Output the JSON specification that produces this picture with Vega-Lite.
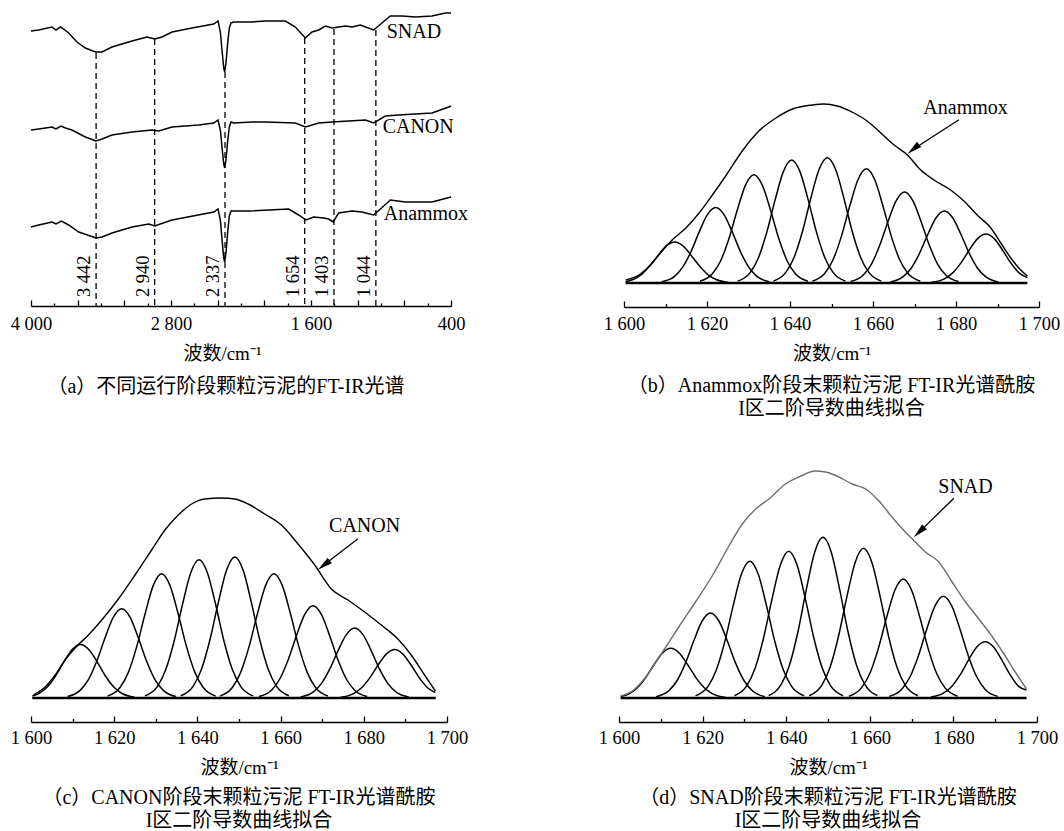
{
"$schema": "https://vega.github.io/schema/vega-lite/v6.json",
"background": "white",
"padding": {"left": 10, "top": 6, "right": 0, "bottom": 0},
"config": {
  "view": {"stroke": null},
  "font": "Liberation Serif, Noto Sans CJK SC",
  "axis": {"labelFont": "Liberation Serif, Noto Sans CJK SC", "labelFontSize": 18.5, "titleFont": "Liberation Serif, Noto Sans CJK SC", "titleFontSize": 19, "titleFontWeight": "normal", "domainColor": "#000", "tickColor": "#000", "labelColor": "#000", "titleColor": "#000", "grid": false, "domainWidth": 1.3, "tickWidth": 1.3, "labelFlush": false, "labelOverlap": false, "labelBound": false},
  "title": {"font": "Liberation Serif, Noto Sans CJK SC", "fontSize": 20, "fontWeight": "normal", "color": "#000", "orient": "bottom", "anchor": "middle"},
  "text": {"font": "Liberation Serif, Noto Sans CJK SC", "fontSize": 20, "color": "#000"}
},
"spacing": 49,
"bounds": "full",
"vconcat": [
{"hconcat": [
{
 "width": 420, "height": 300,
 "title": {"text": "（a）不同运行阶段颗粒污泥的FT-IR光谱", "dx": -15, "offset": 13},
 "encoding": {
  "x": {"field": "x", "type": "quantitative", "scale": {"domain": [4000, 400], "nice": false, "zero": false},
        "axis": {"values": [4000,3800,3600,3400,3200,3000,2800,2600,2400,2200,2000,1800,1600,1400,1200,1000,800,600,400],
                 "labelExpr": "datum.value % 1200 == 400 ? replace(format(datum.value, ','), ',', ' ') : ''",
                 "tickSize": {"condition": {"test": "datum.value % 400 == 0", "value": -6}, "value": -3},
                 "labelPadding": 14, "title": "波数/cm⁻¹", "titlePadding": 9, "titleX": 191}},
  "y": {"field": "y", "type": "quantitative", "scale": {"domain": [0, 300], "nice": false}, "axis": null}
 },
 "layer": [
  {"data": {"values": [
{"s":"SNAD","x":4000,"y":275},{"s":"SNAD","x":3934,"y":276},{"s":"SNAD","x":3820,"y":279},{"s":"SNAD","x":3786,"y":276},{"s":"SNAD","x":3748,"y":279},{"s":"SNAD","x":3720,"y":277},{"s":"SNAD","x":3677,"y":273},{"s":"SNAD","x":3606,"y":264},{"s":"SNAD","x":3534,"y":258},{"s":"SNAD","x":3448,"y":254},{"s":"SNAD","x":3391,"y":254},{"s":"SNAD","x":3306,"y":259},{"s":"SNAD","x":3134,"y":265},{"s":"SNAD","x":3006,"y":269},{"s":"SNAD","x":2940,"y":267},{"s":"SNAD","x":2877,"y":269},{"s":"SNAD","x":2791,"y":274},{"s":"SNAD","x":2620,"y":278},{"s":"SNAD","x":2434,"y":282},{"s":"SNAD","x":2397,"y":285},{"s":"SNAD","x":2377,"y":274},{"s":"SNAD","x":2363,"y":256},{"s":"SNAD","x":2348,"y":238},{"s":"SNAD","x":2340,"y":234},{"s":"SNAD","x":2329,"y":243},{"s":"SNAD","x":2314,"y":263},{"s":"SNAD","x":2300,"y":278},{"s":"SNAD","x":2286,"y":283},{"s":"SNAD","x":2263,"y":284},{"s":"SNAD","x":2106,"y":284},{"s":"SNAD","x":1991,"y":285},{"s":"SNAD","x":1820,"y":285},{"s":"SNAD","x":1734,"y":279},{"s":"SNAD","x":1648,"y":268},{"s":"SNAD","x":1591,"y":274},{"s":"SNAD","x":1534,"y":276},{"s":"SNAD","x":1477,"y":280},{"s":"SNAD","x":1420,"y":278},{"s":"SNAD","x":1305,"y":280},{"s":"SNAD","x":1249,"y":279},{"s":"SNAD","x":1177,"y":281},{"s":"SNAD","x":1063,"y":276},{"s":"SNAD","x":992,"y":283},{"s":"SNAD","x":920,"y":290},{"s":"SNAD","x":820,"y":290},{"s":"SNAD","x":705,"y":289},{"s":"SNAD","x":563,"y":290},{"s":"SNAD","x":448,"y":293},{"s":"SNAD","x":400,"y":293},
{"s":"CANON","x":4000,"y":176},{"s":"CANON","x":3934,"y":177},{"s":"CANON","x":3820,"y":179},{"s":"CANON","x":3786,"y":177},{"s":"CANON","x":3743,"y":180},{"s":"CANON","x":3705,"y":178},{"s":"CANON","x":3649,"y":176},{"s":"CANON","x":3534,"y":169},{"s":"CANON","x":3443,"y":165},{"s":"CANON","x":3391,"y":167},{"s":"CANON","x":3306,"y":171},{"s":"CANON","x":3134,"y":174},{"s":"CANON","x":2963,"y":176},{"s":"CANON","x":2905,"y":175},{"s":"CANON","x":2791,"y":179},{"s":"CANON","x":2563,"y":181},{"s":"CANON","x":2434,"y":183},{"s":"CANON","x":2397,"y":186},{"s":"CANON","x":2377,"y":176},{"s":"CANON","x":2363,"y":159},{"s":"CANON","x":2348,"y":142},{"s":"CANON","x":2340,"y":138},{"s":"CANON","x":2329,"y":146},{"s":"CANON","x":2314,"y":165},{"s":"CANON","x":2300,"y":179},{"s":"CANON","x":2286,"y":184},{"s":"CANON","x":2263,"y":183},{"s":"CANON","x":2106,"y":184},{"s":"CANON","x":1991,"y":184},{"s":"CANON","x":1734,"y":183},{"s":"CANON","x":1648,"y":179},{"s":"CANON","x":1534,"y":183},{"s":"CANON","x":1420,"y":184},{"s":"CANON","x":1134,"y":186},{"s":"CANON","x":1063,"y":183},{"s":"CANON","x":962,"y":190},{"s":"CANON","x":848,"y":191},{"s":"CANON","x":563,"y":193},{"s":"CANON","x":420,"y":199},{"s":"CANON","x":400,"y":200},
{"s":"Anammox","x":4000,"y":79},{"s":"Anammox","x":3934,"y":81},{"s":"Anammox","x":3820,"y":84},{"s":"Anammox","x":3786,"y":82},{"s":"Anammox","x":3739,"y":85},{"s":"Anammox","x":3677,"y":81},{"s":"Anammox","x":3591,"y":74},{"s":"Anammox","x":3443,"y":68},{"s":"Anammox","x":3391,"y":69},{"s":"Anammox","x":3306,"y":73},{"s":"Anammox","x":3134,"y":79},{"s":"Anammox","x":2991,"y":82},{"s":"Anammox","x":2940,"y":80},{"s":"Anammox","x":2791,"y":86},{"s":"Anammox","x":2434,"y":94},{"s":"Anammox","x":2397,"y":97},{"s":"Anammox","x":2377,"y":86},{"s":"Anammox","x":2363,"y":67},{"s":"Anammox","x":2348,"y":48},{"s":"Anammox","x":2340,"y":44},{"s":"Anammox","x":2329,"y":53},{"s":"Anammox","x":2314,"y":74},{"s":"Anammox","x":2300,"y":90},{"s":"Anammox","x":2286,"y":95},{"s":"Anammox","x":2263,"y":95},{"s":"Anammox","x":2134,"y":95},{"s":"Anammox","x":1791,"y":97},{"s":"Anammox","x":1706,"y":91},{"s":"Anammox","x":1643,"y":86},{"s":"Anammox","x":1577,"y":89},{"s":"Anammox","x":1491,"y":88},{"s":"Anammox","x":1450,"y":87},{"s":"Anammox","x":1410,"y":84},{"s":"Anammox","x":1363,"y":93},{"s":"Anammox","x":1249,"y":95},{"s":"Anammox","x":1163,"y":94},{"s":"Anammox","x":1063,"y":91},{"s":"Anammox","x":1005,"y":97},{"s":"Anammox","x":920,"y":106},{"s":"Anammox","x":791,"y":104},{"s":"Anammox","x":563,"y":104},{"s":"Anammox","x":400,"y":109}
  ]},
   "mark": {"type": "line", "color": "#000", "strokeWidth": 1.5},
   "encoding": {"detail": {"field": "s", "type": "nominal"}}},
  {"data": {"values": [
{"x":3442,"y":253,"lab":"3 442"},{"x":2940,"y":267,"lab":"2 940"},{"x":2337,"y":234,"lab":"2 337"},{"x":1654,"y":268,"lab":"1 654"},{"x":1403,"y":277,"lab":"1 403"},{"x":1044,"y":276,"lab":"1 044"}
  ]},
   "layer": [
    {"mark": {"type": "rule", "color": "#000", "strokeWidth": 1.3, "strokeDash": [6, 4]},
     "encoding": {"y2": {"datum": 0}}},
    {"mark": {"type": "text", "angle": 270, "align": "left", "baseline": "alphabetic", "dy": -6, "fontSize": 18.5},
     "encoding": {"y": {"datum": 9}, "text": {"field": "lab", "type": "nominal"}}}
   ]},
  {"data": {"values": [
{"x":951,"y":274,"s":"SNAD"},{"x":986,"y":179,"s":"CANON"},{"x":977,"y":92,"s":"Anammox"}
  ]},
   "mark": {"type": "text", "align": "left", "baseline": "middle", "fontSize": 20},
   "encoding": {"text": {"field": "s", "type": "nominal"}}}
 ]
},
{
 "width": 415, "height": 277,
 "title": {"text": ["（b）Anammox阶段末颗粒污泥 FT-IR光谱酰胺", "I区二阶导数曲线拟合"], "offset": 13, "lineHeight": 23},
 "encoding": {
  "x": {"field": "x", "type": "quantitative", "scale": {"domain": [1600, 1700], "nice": false, "zero": false},
        "axis": {"values": [1600,1610,1620,1630,1640,1650,1660,1670,1680,1690,1700], "offset": 24,
                 "labelExpr": "datum.value % 20 == 0 ? replace(format(datum.value, ','), ',', ' ') : ''",
                 "tickSize": {"condition": {"test": "datum.value % 20 == 0", "value": -6}, "value": -3.5},
                 "labelPadding": 13, "title": "波数/cm⁻¹", "titlePadding": 9}},
  "y": {"field": "y", "type": "quantitative", "scale": {"domain": [0, 277], "nice": false}, "axis": null}
 },
 "layer": [
  {"data": {"values": [
{"g":1,"x":1600.4,"y":1.3},{"g":1,"x":1602.2,"y":3.5},{"g":1,"x":1604.2,"y":8.4},{"g":1,"x":1606.2,"y":16.9},{"g":1,"x":1608.2,"y":27.6},{"g":1,"x":1610.2,"y":37.1},{"g":1,"x":1612.2,"y":41},{"g":1,"x":1614.2,"y":37.1},{"g":1,"x":1616.2,"y":27.6},{"g":1,"x":1618.2,"y":16.9},{"g":1,"x":1620.2,"y":8.4},{"g":1,"x":1622.2,"y":3.5},{"g":1,"x":1625.2,"y":0.6},
{"g":2,"x":1609.1,"y":1.2},{"g":2,"x":1612.1,"y":6.4},{"g":2,"x":1614.1,"y":15.6},{"g":2,"x":1616.1,"y":31},{"g":2,"x":1618.1,"y":50.9},{"g":2,"x":1620.1,"y":68.4},{"g":2,"x":1622.1,"y":75.5},{"g":2,"x":1624.1,"y":68.4},{"g":2,"x":1626.1,"y":50.9},{"g":2,"x":1628.1,"y":31},{"g":2,"x":1630.1,"y":15.6},{"g":2,"x":1632.1,"y":6.4},{"g":2,"x":1635.1,"y":1.2},
{"g":3,"x":1618.3,"y":1.7},{"g":3,"x":1621.3,"y":9.2},{"g":3,"x":1623.3,"y":22.3},{"g":3,"x":1625.3,"y":44.5},{"g":3,"x":1627.3,"y":73},{"g":3,"x":1629.3,"y":98.1},{"g":3,"x":1631.3,"y":108.3},{"g":3,"x":1633.3,"y":98.1},{"g":3,"x":1635.3,"y":73},{"g":3,"x":1637.3,"y":44.5},{"g":3,"x":1639.3,"y":22.3},{"g":3,"x":1641.3,"y":9.2},{"g":3,"x":1644.3,"y":1.7},
{"g":4,"x":1627.4,"y":1.9},{"g":4,"x":1630.4,"y":10.4},{"g":4,"x":1632.4,"y":25.3},{"g":4,"x":1634.4,"y":50.6},{"g":4,"x":1636.4,"y":82.9},{"g":4,"x":1638.4,"y":111.4},{"g":4,"x":1640.4,"y":123},{"g":4,"x":1642.4,"y":111.4},{"g":4,"x":1644.4,"y":82.9},{"g":4,"x":1646.4,"y":50.6},{"g":4,"x":1648.4,"y":25.3},{"g":4,"x":1650.4,"y":10.4},{"g":4,"x":1653.4,"y":1.9},
{"g":5,"x":1636,"y":1.9},{"g":5,"x":1639,"y":10.6},{"g":5,"x":1641,"y":25.8},{"g":5,"x":1643,"y":51.5},{"g":5,"x":1645,"y":84.5},{"g":5,"x":1647,"y":113.5},{"g":5,"x":1649,"y":125.3},{"g":5,"x":1651,"y":113.5},{"g":5,"x":1653,"y":84.5},{"g":5,"x":1655,"y":51.5},{"g":5,"x":1657,"y":25.8},{"g":5,"x":1659,"y":10.6},{"g":5,"x":1662,"y":1.9},
{"g":6,"x":1645.4,"y":1.8},{"g":6,"x":1648.4,"y":9.7},{"g":6,"x":1650.4,"y":23.5},{"g":6,"x":1652.4,"y":46.9},{"g":6,"x":1654.4,"y":77},{"g":6,"x":1656.4,"y":103.5},{"g":6,"x":1658.4,"y":114.2},{"g":6,"x":1660.4,"y":103.5},{"g":6,"x":1662.4,"y":77},{"g":6,"x":1664.4,"y":46.9},{"g":6,"x":1666.4,"y":23.5},{"g":6,"x":1668.4,"y":9.7},{"g":6,"x":1671.4,"y":1.8},
{"g":7,"x":1654.6,"y":1.4},{"g":7,"x":1657.6,"y":7.7},{"g":7,"x":1659.6,"y":18.7},{"g":7,"x":1661.6,"y":37.4},{"g":7,"x":1663.6,"y":61.3},{"g":7,"x":1665.6,"y":82.4},{"g":7,"x":1667.6,"y":91},{"g":7,"x":1669.6,"y":82.4},{"g":7,"x":1671.6,"y":61.3},{"g":7,"x":1673.6,"y":37.4},{"g":7,"x":1675.6,"y":18.7},{"g":7,"x":1677.6,"y":7.7},{"g":7,"x":1680.6,"y":1.4},
{"g":8,"x":1664.2,"y":1.1},{"g":8,"x":1667.2,"y":6.1},{"g":8,"x":1669.2,"y":14.8},{"g":8,"x":1671.2,"y":29.6},{"g":8,"x":1673.2,"y":48.5},{"g":8,"x":1675.2,"y":65.2},{"g":8,"x":1677.2,"y":72},{"g":8,"x":1679.2,"y":65.2},{"g":8,"x":1681.2,"y":48.5},{"g":8,"x":1683.2,"y":29.6},{"g":8,"x":1685.2,"y":14.8},{"g":8,"x":1687.2,"y":6.1},{"g":8,"x":1690.2,"y":1.1},
{"g":9,"x":1674.2,"y":0.8},{"g":9,"x":1677.2,"y":4.2},{"g":9,"x":1679.2,"y":10.1},{"g":9,"x":1681.2,"y":20.1},{"g":9,"x":1683.2,"y":33},{"g":9,"x":1685.2,"y":44.4},{"g":9,"x":1687.2,"y":49},{"g":9,"x":1689.2,"y":44.4},{"g":9,"x":1691.2,"y":33},{"g":9,"x":1693.2,"y":20.1},{"g":9,"x":1695.2,"y":10.1},{"g":9,"x":1697.2,"y":5.5}
  ]},
   "mark": {"type": "line", "color": "#000", "strokeWidth": 1.5, "interpolate": "monotone"},
   "encoding": {"detail": {"field": "g", "type": "nominal"}}},
  {"data": {"values": [
{"x":1600.4,"y":3},{"x":1603.6,"y":8},{"x":1606.8,"y":20},{"x":1609.2,"y":32},{"x":1611.6,"y":43},{"x":1614.9,"y":55},{"x":1618.1,"y":70},{"x":1621.3,"y":88},{"x":1624.5,"y":107},{"x":1628.5,"y":132},{"x":1632.5,"y":152},{"x":1636.6,"y":165},{"x":1640.6,"y":174},{"x":1645.4,"y":178},{"x":1648.2,"y":179},{"x":1651.4,"y":177},{"x":1655.4,"y":170},{"x":1658.6,"y":162},{"x":1661.9,"y":150},{"x":1665.1,"y":138},{"x":1668.3,"y":128},{"x":1671.5,"y":113},{"x":1674.7,"y":103},{"x":1678.7,"y":93},{"x":1681.9,"y":82},{"x":1685.1,"y":68},{"x":1688.4,"y":55},{"x":1690.8,"y":40},{"x":1693.2,"y":25},{"x":1695.6,"y":13},{"x":1697.2,"y":7}
  ]},
   "mark": {"type": "line", "color": "#000", "strokeWidth": 1.4, "interpolate": "monotone"}},
  {"data": {"values": [{"x":1600.4,"x2":1697.2,"y":0}]},
   "mark": {"type": "rule", "color": "#000", "strokeWidth": 2.5},
   "encoding": {"x2": {"field": "x2"}}},
  {"data": {"values": [{"x":1680.7,"y":163.3,"x2":1669.7,"y2":133.8,"a":230.6,"t":"Anammox","tx":1682.3,"ty":175}]},
   "layer": [
    {"mark": {"type": "rule", "color": "#000", "strokeWidth": 1.3},
     "encoding": {"x2": {"field": "x2"}, "y2": {"field": "y2"}}},
    {"mark": {"type": "point", "shape": "M0,-1L0.45,1L-0.45,1Z", "filled": true, "size": 225, "color": "#000", "opacity": 1},
     "encoding": {"x": {"field": "x2", "type": "quantitative"}, "y": {"field": "y2", "type": "quantitative"}, "angle": {"field": "a", "type": "quantitative", "scale": null}}},
    {"mark": {"type": "text", "align": "center", "baseline": "middle", "fontSize": 20},
     "encoding": {"x": {"field": "tx", "type": "quantitative"}, "y": {"field": "ty", "type": "quantitative"}, "text": {"field": "t", "type": "nominal"}}}
   ]}
 ]
}
], "spacing": 173, "bounds": "flush"},
{"hconcat": [
{
 "width": 416, "height": 229,
 "title": {"text": ["（c）CANON阶段末颗粒污泥 FT-IR光谱酰胺", "I区二阶导数曲线拟合"], "offset": 11, "lineHeight": 23},
 "encoding": {
  "x": {"field": "x", "type": "quantitative", "scale": {"domain": [1600, 1700], "nice": false, "zero": false},
        "axis": {"values": [1600,1610,1620,1630,1640,1650,1660,1670,1680,1690,1700], "offset": 24,
                 "labelExpr": "datum.value % 20 == 0 ? replace(format(datum.value, ','), ',', ' ') : ''",
                 "tickSize": {"condition": {"test": "datum.value % 20 == 0", "value": -6}, "value": -3.5},
                 "labelPadding": 12, "title": "波数/cm⁻¹", "titlePadding": 9}},
  "y": {"field": "y", "type": "quantitative", "scale": {"domain": [0, 229], "nice": false}, "axis": null}
 },
 "layer": [
  {"data": {"values": [
{"g":1,"x":1600.3,"y":1.9},{"g":1,"x":1601.9,"y":4.5},{"g":1,"x":1603.9,"y":11},{"g":1,"x":1605.9,"y":22},{"g":1,"x":1607.9,"y":36.1},{"g":1,"x":1609.9,"y":48.5},{"g":1,"x":1611.9,"y":53.5},{"g":1,"x":1613.9,"y":48.5},{"g":1,"x":1615.9,"y":36.1},{"g":1,"x":1617.9,"y":22},{"g":1,"x":1619.9,"y":11},{"g":1,"x":1621.9,"y":4.5},{"g":1,"x":1624.9,"y":0.8},
{"g":2,"x":1608.8,"y":1.4},{"g":2,"x":1611.8,"y":7.6},{"g":2,"x":1613.8,"y":18.4},{"g":2,"x":1615.8,"y":36.7},{"g":2,"x":1617.8,"y":60.2},{"g":2,"x":1619.8,"y":80.9},{"g":2,"x":1621.8,"y":89.3},{"g":2,"x":1623.8,"y":80.9},{"g":2,"x":1625.8,"y":60.2},{"g":2,"x":1627.8,"y":36.7},{"g":2,"x":1629.8,"y":18.4},{"g":2,"x":1631.8,"y":7.6},{"g":2,"x":1634.8,"y":1.4},
{"g":3,"x":1618.4,"y":1.9},{"g":3,"x":1621.4,"y":10.5},{"g":3,"x":1623.4,"y":25.6},{"g":3,"x":1625.4,"y":51.1},{"g":3,"x":1627.4,"y":83.8},{"g":3,"x":1629.4,"y":112.6},{"g":3,"x":1631.4,"y":124.3},{"g":3,"x":1633.4,"y":112.6},{"g":3,"x":1635.4,"y":83.8},{"g":3,"x":1637.4,"y":51.1},{"g":3,"x":1639.4,"y":25.6},{"g":3,"x":1641.4,"y":10.5},{"g":3,"x":1644.4,"y":1.9},
{"g":4,"x":1627.4,"y":2.1},{"g":4,"x":1630.4,"y":11.7},{"g":4,"x":1632.4,"y":28.5},{"g":4,"x":1634.4,"y":56.8},{"g":4,"x":1636.4,"y":93.2},{"g":4,"x":1638.4,"y":125.3},{"g":4,"x":1640.4,"y":138.3},{"g":4,"x":1642.4,"y":125.3},{"g":4,"x":1644.4,"y":93.2},{"g":4,"x":1646.4,"y":56.8},{"g":4,"x":1648.4,"y":28.5},{"g":4,"x":1650.4,"y":11.7},{"g":4,"x":1653.4,"y":2.1},
{"g":5,"x":1636,"y":2.2},{"g":5,"x":1639,"y":11.9},{"g":5,"x":1641,"y":29},{"g":5,"x":1643,"y":58},{"g":5,"x":1645,"y":95},{"g":5,"x":1647,"y":127.7},{"g":5,"x":1649,"y":141},{"g":5,"x":1651,"y":127.7},{"g":5,"x":1653,"y":95},{"g":5,"x":1655,"y":58},{"g":5,"x":1657,"y":29},{"g":5,"x":1659,"y":11.9},{"g":5,"x":1662,"y":2.2},
{"g":6,"x":1645.4,"y":1.9},{"g":6,"x":1648.4,"y":10.5},{"g":6,"x":1650.4,"y":25.6},{"g":6,"x":1652.4,"y":51.1},{"g":6,"x":1654.4,"y":83.8},{"g":6,"x":1656.4,"y":112.6},{"g":6,"x":1658.4,"y":124.3},{"g":6,"x":1660.4,"y":112.6},{"g":6,"x":1662.4,"y":83.8},{"g":6,"x":1664.4,"y":51.1},{"g":6,"x":1666.4,"y":25.6},{"g":6,"x":1668.4,"y":10.5},{"g":6,"x":1671.4,"y":1.9},
{"g":7,"x":1654.8,"y":1.4},{"g":7,"x":1657.8,"y":7.8},{"g":7,"x":1659.8,"y":19},{"g":7,"x":1661.8,"y":37.9},{"g":7,"x":1663.8,"y":62.2},{"g":7,"x":1665.8,"y":83.6},{"g":7,"x":1667.8,"y":92.3},{"g":7,"x":1669.8,"y":83.6},{"g":7,"x":1671.8,"y":62.2},{"g":7,"x":1673.8,"y":37.9},{"g":7,"x":1675.8,"y":19},{"g":7,"x":1677.8,"y":7.8},{"g":7,"x":1680.8,"y":1.4},
{"g":8,"x":1664.8,"y":1.1},{"g":8,"x":1667.8,"y":5.9},{"g":8,"x":1669.8,"y":14.4},{"g":8,"x":1671.8,"y":28.8},{"g":8,"x":1673.8,"y":47.2},{"g":8,"x":1675.8,"y":63.4},{"g":8,"x":1677.8,"y":70},{"g":8,"x":1679.8,"y":63.4},{"g":8,"x":1681.8,"y":47.2},{"g":8,"x":1683.8,"y":28.8},{"g":8,"x":1685.8,"y":14.4},{"g":8,"x":1687.8,"y":5.9},{"g":8,"x":1690.8,"y":1.1},
{"g":9,"x":1674.4,"y":0.7},{"g":9,"x":1677.4,"y":4.1},{"g":9,"x":1679.4,"y":10},{"g":9,"x":1681.4,"y":19.9},{"g":9,"x":1683.4,"y":32.7},{"g":9,"x":1685.4,"y":43.9},{"g":9,"x":1687.4,"y":48.5},{"g":9,"x":1689.4,"y":43.9},{"g":9,"x":1691.4,"y":32.7},{"g":9,"x":1693.4,"y":19.9},{"g":9,"x":1695.4,"y":10},{"g":9,"x":1697.2,"y":5.5}
  ]},
   "mark": {"type": "line", "color": "#000", "strokeWidth": 1.5, "interpolate": "monotone"},
   "encoding": {"detail": {"field": "g", "type": "nominal"}}},
  {"data": {"values": [
{"x":1600.6,"y":3},{"x":1603.4,"y":11},{"x":1605.8,"y":23},{"x":1608.2,"y":38},{"x":1610.6,"y":50},{"x":1613.8,"y":63},{"x":1617,"y":78},{"x":1621,"y":99},{"x":1625,"y":123},{"x":1629,"y":148},{"x":1632.2,"y":168},{"x":1635.4,"y":183},{"x":1638.6,"y":194},{"x":1641.8,"y":199},{"x":1645.8,"y":200},{"x":1649,"y":199},{"x":1652.2,"y":194},{"x":1656.2,"y":184},{"x":1660.2,"y":173},{"x":1664.2,"y":154},{"x":1668.2,"y":133},{"x":1672.2,"y":109},{"x":1676.2,"y":98},{"x":1680.2,"y":86},{"x":1684.2,"y":73},{"x":1688.2,"y":59},{"x":1691.4,"y":43},{"x":1694.6,"y":23},{"x":1697.2,"y":7}
  ]},
   "mark": {"type": "line", "color": "#000", "strokeWidth": 1.4, "interpolate": "monotone"}},
  {"data": {"values": [{"x":1600.3,"x2":1697.3,"y":0}]},
   "mark": {"type": "rule", "color": "#000", "strokeWidth": 2.5},
   "encoding": {"x2": {"field": "x2"}}},
  {"data": {"values": [{"x":1678.6,"y":159.3,"x2":1670.4,"y2":132.9,"a":232.2,"t":"CANON","tx":1680.2,"ty":172.3}]},
   "layer": [
    {"mark": {"type": "rule", "color": "#000", "strokeWidth": 1.3},
     "encoding": {"x2": {"field": "x2"}, "y2": {"field": "y2"}}},
    {"mark": {"type": "point", "shape": "M0,-1L0.45,1L-0.45,1Z", "filled": true, "size": 225, "color": "#000", "opacity": 1},
     "encoding": {"x": {"field": "x2", "type": "quantitative"}, "y": {"field": "y2", "type": "quantitative"}, "angle": {"field": "a", "type": "quantitative", "scale": null}}},
    {"mark": {"type": "text", "align": "center", "baseline": "middle", "fontSize": 20},
     "encoding": {"x": {"field": "tx", "type": "quantitative"}, "y": {"field": "ty", "type": "quantitative"}, "text": {"field": "t", "type": "nominal"}}}
   ]}
 ]
},
{
 "width": 418, "height": 229,
 "title": {"text": ["（d）SNAD阶段末颗粒污泥 FT-IR光谱酰胺", "I区二阶导数曲线拟合"], "offset": 11, "lineHeight": 23},
 "encoding": {
  "x": {"field": "x", "type": "quantitative", "scale": {"domain": [1600, 1700], "nice": false, "zero": false},
        "axis": {"values": [1600,1610,1620,1630,1640,1650,1660,1670,1680,1690,1700], "offset": 24,
                 "labelExpr": "datum.value % 20 == 0 ? replace(format(datum.value, ','), ',', ' ') : ''",
                 "tickSize": {"condition": {"test": "datum.value % 20 == 0", "value": -6}, "value": -3.5},
                 "labelPadding": 12, "title": "波数/cm⁻¹", "titlePadding": 9}},
  "y": {"field": "y", "type": "quantitative", "scale": {"domain": [0, 229], "nice": false}, "axis": null}
 },
 "layer": [
  {"data": {"values": [
{"g":1,"x":1600.4,"y":1.4},{"g":1,"x":1602.4,"y":4.2},{"g":1,"x":1604.4,"y":10.2},{"g":1,"x":1606.4,"y":20.4},{"g":1,"x":1608.4,"y":33.5},{"g":1,"x":1610.4,"y":45},{"g":1,"x":1612.4,"y":49.7},{"g":1,"x":1614.4,"y":45},{"g":1,"x":1616.4,"y":33.5},{"g":1,"x":1618.4,"y":20.4},{"g":1,"x":1620.4,"y":10.2},{"g":1,"x":1622.4,"y":4.2},{"g":1,"x":1625.4,"y":0.8},
{"g":2,"x":1608.9,"y":1.3},{"g":2,"x":1611.9,"y":7.2},{"g":2,"x":1613.9,"y":17.5},{"g":2,"x":1615.9,"y":34.9},{"g":2,"x":1617.9,"y":57.3},{"g":2,"x":1619.9,"y":77},{"g":2,"x":1621.9,"y":85},{"g":2,"x":1623.9,"y":77},{"g":2,"x":1625.9,"y":57.3},{"g":2,"x":1627.9,"y":34.9},{"g":2,"x":1629.9,"y":17.5},{"g":2,"x":1631.9,"y":7.2},{"g":2,"x":1634.9,"y":1.3},
{"g":3,"x":1618.3,"y":2.1},{"g":3,"x":1621.3,"y":11.6},{"g":3,"x":1623.3,"y":28.2},{"g":3,"x":1625.3,"y":56.2},{"g":3,"x":1627.3,"y":92.1},{"g":3,"x":1629.3,"y":123.9},{"g":3,"x":1631.3,"y":136.7},{"g":3,"x":1633.3,"y":123.9},{"g":3,"x":1635.3,"y":92.1},{"g":3,"x":1637.3,"y":56.2},{"g":3,"x":1639.3,"y":28.2},{"g":3,"x":1641.3,"y":11.6},{"g":3,"x":1644.3,"y":2.1},
{"g":4,"x":1627.6,"y":2.3},{"g":4,"x":1630.6,"y":12.4},{"g":4,"x":1632.6,"y":30.2},{"g":4,"x":1634.6,"y":60.3},{"g":4,"x":1636.6,"y":98.9},{"g":4,"x":1638.6,"y":132.9},{"g":4,"x":1640.6,"y":146.7},{"g":4,"x":1642.6,"y":132.9},{"g":4,"x":1644.6,"y":98.9},{"g":4,"x":1646.6,"y":60.3},{"g":4,"x":1648.6,"y":30.2},{"g":4,"x":1650.6,"y":12.4},{"g":4,"x":1653.6,"y":2.3},
{"g":5,"x":1635.8,"y":2.5},{"g":5,"x":1638.8,"y":13.6},{"g":5,"x":1640.8,"y":33.1},{"g":5,"x":1642.8,"y":66},{"g":5,"x":1644.8,"y":108.3},{"g":5,"x":1646.8,"y":145.6},{"g":5,"x":1648.8,"y":160.7},{"g":5,"x":1650.8,"y":145.6},{"g":5,"x":1652.8,"y":108.3},{"g":5,"x":1654.8,"y":66},{"g":5,"x":1656.8,"y":33.1},{"g":5,"x":1658.8,"y":13.6},{"g":5,"x":1661.8,"y":2.5},
{"g":6,"x":1645.5,"y":2.3},{"g":6,"x":1648.5,"y":12.7},{"g":6,"x":1650.5,"y":30.8},{"g":6,"x":1652.5,"y":61.5},{"g":6,"x":1654.5,"y":100.9},{"g":6,"x":1656.5,"y":135.6},{"g":6,"x":1658.5,"y":149.7},{"g":6,"x":1660.5,"y":135.6},{"g":6,"x":1662.5,"y":100.9},{"g":6,"x":1664.5,"y":61.5},{"g":6,"x":1666.5,"y":30.8},{"g":6,"x":1668.5,"y":12.7},{"g":6,"x":1671.5,"y":2.3},
{"g":7,"x":1655,"y":1.8},{"g":7,"x":1658,"y":10.1},{"g":7,"x":1660,"y":24.5},{"g":7,"x":1662,"y":48.9},{"g":7,"x":1664,"y":80.2},{"g":7,"x":1666,"y":107.8},{"g":7,"x":1668,"y":119},{"g":7,"x":1670,"y":107.8},{"g":7,"x":1672,"y":80.2},{"g":7,"x":1674,"y":48.9},{"g":7,"x":1676,"y":24.5},{"g":7,"x":1678,"y":10.1},{"g":7,"x":1681,"y":1.8},
{"g":8,"x":1664.6,"y":1.6},{"g":8,"x":1667.6,"y":8.6},{"g":8,"x":1669.6,"y":21},{"g":8,"x":1671.6,"y":41.8},{"g":8,"x":1673.6,"y":68.5},{"g":8,"x":1675.6,"y":92.1},{"g":8,"x":1677.6,"y":101.7},{"g":8,"x":1679.6,"y":92.1},{"g":8,"x":1681.6,"y":68.5},{"g":8,"x":1683.6,"y":41.8},{"g":8,"x":1685.6,"y":21},{"g":8,"x":1687.6,"y":8.6},{"g":8,"x":1690.6,"y":1.6},
{"g":9,"x":1674.6,"y":0.9},{"g":9,"x":1677.6,"y":4.8},{"g":9,"x":1679.6,"y":11.6},{"g":9,"x":1681.6,"y":23.1},{"g":9,"x":1683.6,"y":37.9},{"g":9,"x":1685.6,"y":51},{"g":9,"x":1687.6,"y":56.3},{"g":9,"x":1689.6,"y":51},{"g":9,"x":1691.6,"y":37.9},{"g":9,"x":1693.6,"y":23.1},{"g":9,"x":1695.6,"y":11.6},{"g":9,"x":1697.5,"y":8}
  ]},
   "mark": {"type": "line", "color": "#000", "strokeWidth": 1.5, "interpolate": "monotone"},
   "encoding": {"detail": {"field": "g", "type": "nominal"}}},
  {"data": {"values": [
{"x":1600.4,"y":2},{"x":1603.2,"y":7},{"x":1606.4,"y":21},{"x":1608.8,"y":36},{"x":1611.2,"y":51},{"x":1614.3,"y":71},{"x":1618.3,"y":96},{"x":1622.3,"y":122},{"x":1626.3,"y":152},{"x":1629.5,"y":174},{"x":1632.7,"y":189},{"x":1635.9,"y":199},{"x":1639.8,"y":214},{"x":1643,"y":221},{"x":1647,"y":227},{"x":1649.4,"y":226},{"x":1652.6,"y":221},{"x":1655.8,"y":214},{"x":1659,"y":209},{"x":1662.2,"y":197},{"x":1665.3,"y":181},{"x":1668.5,"y":166},{"x":1670.9,"y":156},{"x":1673.3,"y":146},{"x":1676.5,"y":136},{"x":1679.7,"y":116},{"x":1682.9,"y":96},{"x":1686.1,"y":79},{"x":1689.2,"y":62},{"x":1692.4,"y":42},{"x":1694.8,"y":26},{"x":1697.5,"y":9}
  ]},
   "mark": {"type": "line", "color": "#6e6e6e", "strokeWidth": 1.4, "interpolate": "monotone"}},
  {"data": {"values": [{"x":1600.4,"x2":1697.5,"y":0}]},
   "mark": {"type": "rule", "color": "#000", "strokeWidth": 2.5},
   "encoding": {"x2": {"field": "x2"}}},
  {"data": {"values": [{"x":1680.1,"y":199.7,"x2":1671.8,"y2":165.9,"a":225.7,"t":"SNAD","tx":1682.9,"ty":210.7}]},
   "layer": [
    {"mark": {"type": "rule", "color": "#000", "strokeWidth": 1.3},
     "encoding": {"x2": {"field": "x2"}, "y2": {"field": "y2"}}},
    {"mark": {"type": "point", "shape": "M0,-1L0.45,1L-0.45,1Z", "filled": true, "size": 225, "color": "#000", "opacity": 1},
     "encoding": {"x": {"field": "x2", "type": "quantitative"}, "y": {"field": "y2", "type": "quantitative"}, "angle": {"field": "a", "type": "quantitative", "scale": null}}},
    {"mark": {"type": "text", "align": "center", "baseline": "middle", "fontSize": 20},
     "encoding": {"x": {"field": "tx", "type": "quantitative"}, "y": {"field": "ty", "type": "quantitative"}, "text": {"field": "t", "type": "nominal"}}}
   ]}
 ]
}
], "spacing": 172, "bounds": "flush"}
]
}
